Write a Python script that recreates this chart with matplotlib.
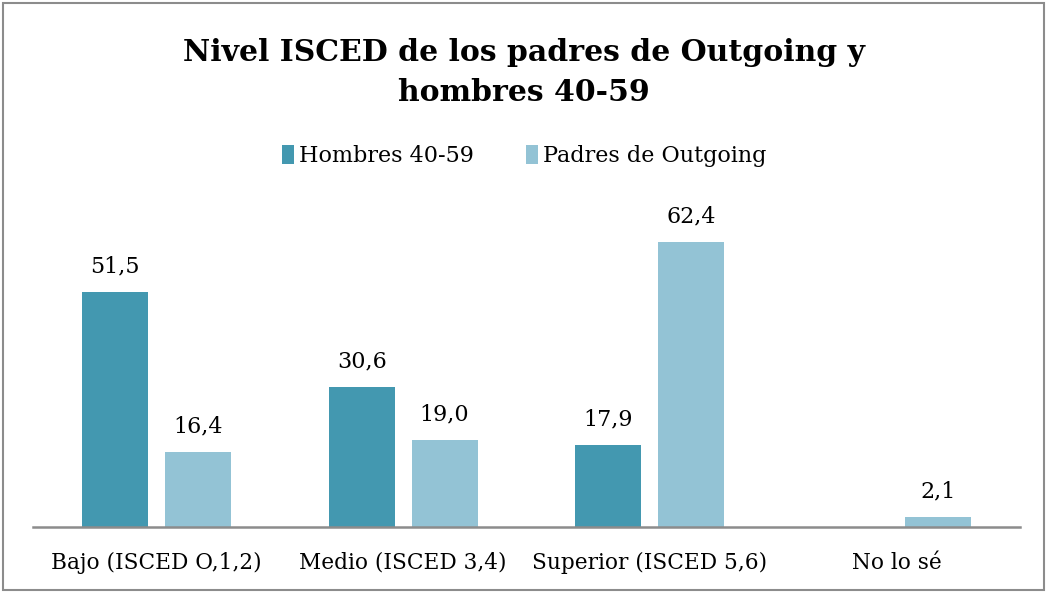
import numpy as np
import matplotlib.pyplot as plt
from matplotlib.patches import Rectangle

categorias = ['Bajo (ISCED O,1,2)', 'Medio (ISCED 3,4)', 'Superior (ISCED 5,6)', 'No lo sé']
hombres = [51.5, 30.6, 17.9, np.nan]
padres = [16.4, 19.0, 62.4, 2.1]
series = ['Hombres 40-59', 'Padres de Outgoing']
colores = ['#4398B0', '#93C3D5']

plt.rcParams['font.family'] = ['DejaVu Serif']

fig = plt.figure(figsize=(10.48, 5.93), dpi=100)
ax = fig.add_axes([33 / 1048, 66 / 593, 987 / 1048, 320 / 593])

x = np.arange(len(categorias))
w = 0.267
off = 0.168
b1 = ax.bar(x - off, hombres, w, color=colores[0], label=series[0])
b2 = ax.bar(x + off, padres, w, color=colores[1], label=series[1])

# etiquetas de datos (coma decimal)
for rects, vals in ((b1, hombres), (b2, padres)):
    for r, v in zip(rects, vals):
        if np.isnan(v):
            continue
        ax.text(r.get_x() + r.get_width() / 2, v + 3.2, f'{v:.1f}'.replace('.', ','),
                ha='center', va='bottom', fontsize=16)

ax.set_xlim(-0.5, len(categorias) - 0.5)
ax.set_ylim(0, 70)
ax.set_xticks(x)
ax.set_xticklabels(categorias, fontsize=15.6)
ax.tick_params(axis='x', length=0, pad=18)
ax.set_yticks([])
for s in ['top', 'right', 'left']:
    ax.spines[s].set_visible(False)
ax.spines['bottom'].set_color('#8C8C8C')
ax.spines['bottom'].set_linewidth(1.8)

fig.text(0.5, 0.878, 'Nivel ISCED de los padres de Outgoing y\nhombres 40-59',
         ha='center', va='center', fontsize=21.5, fontweight='bold', linespacing=1.5)
fig.legend(loc='center', bbox_to_anchor=(0.5, 0.737), ncol=2, frameon=False,
           fontsize=16, handlelength=0.55, handleheight=0.9, handletextpad=0.2,
           columnspacing=2.35)

fig.patches.append(Rectangle((3 / 1048, 3 / 593), 1041 / 1048, 587 / 593,
                             transform=fig.transFigure, fill=False,
                             edgecolor='#8C8C8C', linewidth=1.5))

fig.savefig('out.png', dpi=100)
